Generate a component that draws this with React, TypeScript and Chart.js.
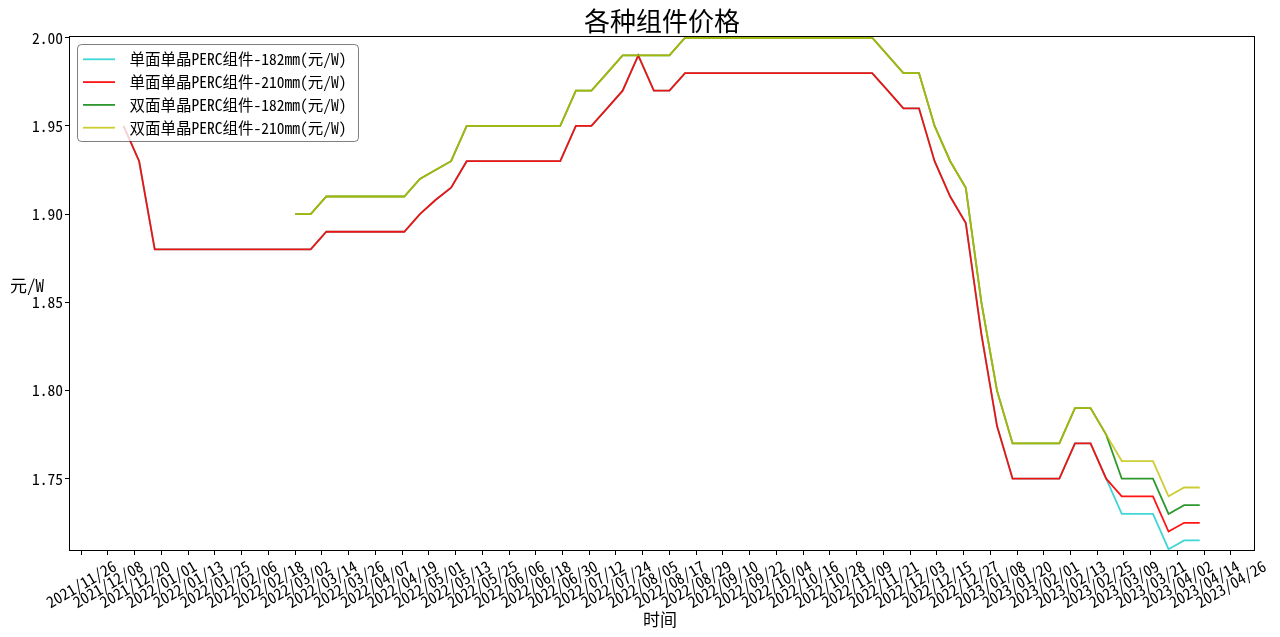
import React, { useEffect, useRef } from "react";
import { Chart, registerables } from "chart.js";

Chart.register(...registerables);

const dates = [
  "2021/12/15", "2021/12/22", "2021/12/29", "2022/01/05", "2022/01/12", "2022/01/19", "2022/01/26", "2022/02/02", "2022/02/09", "2022/02/16",
  "2022/02/23", "2022/03/02", "2022/03/09", "2022/03/16", "2022/03/23", "2022/03/30", "2022/04/06", "2022/04/13", "2022/04/20", "2022/04/27",
  "2022/05/04", "2022/05/11", "2022/05/18", "2022/05/25", "2022/06/01", "2022/06/08", "2022/06/15", "2022/06/22", "2022/06/29", "2022/07/06",
  "2022/07/13", "2022/07/20", "2022/07/27", "2022/08/03", "2022/08/10", "2022/08/17", "2022/08/24", "2022/08/31", "2022/09/07", "2022/09/14",
  "2022/09/21", "2022/09/28", "2022/10/05", "2022/10/12", "2022/10/19", "2022/10/26", "2022/11/02", "2022/11/09", "2022/11/16", "2022/11/23",
  "2022/11/30", "2022/12/07", "2022/12/14", "2022/12/21", "2022/12/28", "2023/01/04", "2023/01/11", "2023/01/18", "2023/01/25", "2023/02/01",
  "2023/02/08", "2023/02/15", "2023/02/22", "2023/03/01", "2023/03/08", "2023/03/15", "2023/03/22", "2023/03/29", "2023/04/05", "2023/04/12",
];

const mono182 = [
  1.95, 1.93, 1.88, 1.88, 1.88, 1.88, 1.88, 1.88, 1.88, 1.88,
  1.88, 1.88, 1.88, 1.89, 1.89, 1.89, 1.89, 1.89, 1.89, 1.90,
  1.908, 1.915, 1.93, 1.93, 1.93, 1.93, 1.93, 1.93, 1.93, 1.95,
  1.95, 1.96, 1.97, 1.99, 1.97, 1.97, 1.98, 1.98, 1.98, 1.98,
  1.98, 1.98, 1.98, 1.98, 1.98, 1.98, 1.98, 1.98, 1.98, 1.97,
  1.96, 1.96, 1.93, 1.91, 1.895, 1.832, 1.78, 1.75, 1.75, 1.75,
  1.75, 1.77, 1.77, 1.75, 1.73, 1.73, 1.73, 1.71, 1.715, 1.715,
];

const mono210 = [
  1.95, 1.93, 1.88, 1.88, 1.88, 1.88, 1.88, 1.88, 1.88, 1.88,
  1.88, 1.88, 1.88, 1.89, 1.89, 1.89, 1.89, 1.89, 1.89, 1.90,
  1.908, 1.915, 1.93, 1.93, 1.93, 1.93, 1.93, 1.93, 1.93, 1.95,
  1.95, 1.96, 1.97, 1.99, 1.97, 1.97, 1.98, 1.98, 1.98, 1.98,
  1.98, 1.98, 1.98, 1.98, 1.98, 1.98, 1.98, 1.98, 1.98, 1.97,
  1.96, 1.96, 1.93, 1.91, 1.895, 1.832, 1.78, 1.75, 1.75, 1.75,
  1.75, 1.77, 1.77, 1.75, 1.74, 1.74, 1.74, 1.72, 1.725, 1.725,
];

const bi182 = [
  null, null, null, null, null, null, null, null, null, null,
  null, 1.90, 1.90, 1.91, 1.91, 1.91, 1.91, 1.91, 1.91, 1.92,
  1.925, 1.93, 1.95, 1.95, 1.95, 1.95, 1.95, 1.95, 1.95, 1.97,
  1.97, 1.98, 1.99, 1.99, 1.99, 1.99, 2.00, 2.00, 2.00, 2.00,
  2.00, 2.00, 2.00, 2.00, 2.00, 2.00, 2.00, 2.00, 2.00, 1.99,
  1.98, 1.98, 1.95, 1.93, 1.915, 1.85, 1.80, 1.77, 1.77, 1.77,
  1.77, 1.79, 1.79, 1.775, 1.75, 1.75, 1.75, 1.73, 1.735, 1.735,
];

const bi210 = [
  null, null, null, null, null, null, null, null, null, null,
  null, 1.90, 1.90, 1.91, 1.91, 1.91, 1.91, 1.91, 1.91, 1.92,
  1.925, 1.93, 1.95, 1.95, 1.95, 1.95, 1.95, 1.95, 1.95, 1.97,
  1.97, 1.98, 1.99, 1.99, 1.99, 1.99, 2.00, 2.00, 2.00, 2.00,
  2.00, 2.00, 2.00, 2.00, 2.00, 2.00, 2.00, 2.00, 2.00, 1.99,
  1.98, 1.98, 1.95, 1.93, 1.915, 1.85, 1.80, 1.77, 1.77, 1.77,
  1.77, 1.79, 1.79, 1.775, 1.76, 1.76, 1.76, 1.74, 1.745, 1.745,
];

const seriesNames = [
  "单面单晶PERC组件-182mm(元/W)",
  "单面单晶PERC组件-210mm(元/W)",
  "双面单晶PERC组件-182mm(元/W)",
  "双面单晶PERC组件-210mm(元/W)",
];
const seriesValues = [mono182, mono210, bi182, bi210];
const seriesColors = [
  "rgba(0,200,200,0.75)",
  "rgba(255,0,0,0.92)",
  "rgba(0,128,0,0.82)",
  "rgba(191,191,0,0.8)",
];

const tickLabels = [
  "2021/11/26", "2021/12/08", "2021/12/20", "2022/01/01", "2022/01/13", "2022/01/25", "2022/02/06", "2022/02/18",
  "2022/03/02", "2022/03/14", "2022/03/26", "2022/04/07", "2022/04/19", "2022/05/01", "2022/05/13", "2022/05/25",
  "2022/06/06", "2022/06/18", "2022/06/30", "2022/07/12", "2022/07/24", "2022/08/05", "2022/08/17", "2022/08/29",
  "2022/09/10", "2022/09/22", "2022/10/04", "2022/10/16", "2022/10/28", "2022/11/09", "2022/11/21", "2022/12/03",
  "2022/12/15", "2022/12/27", "2023/01/08", "2023/01/20", "2023/02/01", "2023/02/13", "2023/02/25", "2023/03/09",
  "2023/03/21", "2023/04/02", "2023/04/14", "2023/04/26",
];
const yTicks = [1.75, 1.8, 1.85, 1.9, 1.95, 2.0];

const titleText = "各种组件价格";
const xTitle = "时间";
const yTitle = "元/W";

const FONT = '"Noto Sans Mono CJK SC", "Noto Sans CJK SC", sans-serif';
const BASE = Date.UTC(2021, 10, 26);

function toDay(s: string): number {
  const [y, m, d] = s.split("/").map(Number);
  return Math.round((Date.UTC(y, m - 1, d) - BASE) / 86400000);
}

const decorPlugin = {
  id: "decor",
  afterDraw(chart: any) {
    const { ctx, chartArea } = chart;
    const xs = chart.scales.x;
    const { left, right, top, bottom } = chartArea;

    ctx.save();
    // frame
    ctx.strokeStyle = "#000";
    ctx.lineWidth = 1;
    ctx.strokeRect(left + 0.5, top + 0.5, right - left - 1, bottom - top - 1);

    // x tick labels, rotated 30 deg, centred on tick
    ctx.fillStyle = "#000";
    ctx.font = `15.5px ${FONT}`;
    ctx.textAlign = "center";
    ctx.textBaseline = "middle";
    const rot = (-30 * Math.PI) / 180;
    for (const lab of tickLabels) {
      const x = xs.getPixelForValue(toDay(lab));
      const L = ctx.measureText(lab).width;
      const h = 15.5 * 0.85;
      const H = L * 0.5 + h * 0.866;
      const yTop = bottom + 8;
      ctx.save();
      ctx.translate(x, yTop + H / 2);
      ctx.rotate(rot);
      ctx.fillText(lab, 0, 0);
      ctx.restore();
    }

    // title
    ctx.font = `26px ${FONT}`;
    ctx.textAlign = "center";
    ctx.textBaseline = "middle";
    ctx.fillText(titleText, (left + right) / 2, 21);

    // axis titles
    ctx.font = `17px ${FONT}`;
    ctx.fillText(xTitle, (left + right) / 2 - 2, 620);
    ctx.textAlign = "left";
    ctx.fillText(yTitle, 10, 286);

    // legend
    const bx = 77.5, by = 44.5, bw = 281, bh = 97, r = 4;
    ctx.beginPath();
    ctx.moveTo(bx + r, by);
    ctx.lineTo(bx + bw - r, by);
    ctx.quadraticCurveTo(bx + bw, by, bx + bw, by + r);
    ctx.lineTo(bx + bw, by + bh - r);
    ctx.quadraticCurveTo(bx + bw, by + bh, bx + bw - r, by + bh);
    ctx.lineTo(bx + r, by + bh);
    ctx.quadraticCurveTo(bx, by + bh, bx, by + bh - r);
    ctx.lineTo(bx, by + r);
    ctx.quadraticCurveTo(bx, by, bx + r, by);
    ctx.closePath();
    ctx.fillStyle = "rgba(255,255,255,0.8)";
    ctx.fill();
    ctx.strokeStyle = "rgba(0,0,0,0.5)";
    ctx.lineWidth = 1;
    ctx.stroke();

    ctx.font = `15.5px ${FONT}`;
    ctx.textAlign = "left";
    ctx.textBaseline = "middle";
    seriesNames.forEach((name, k) => {
      const yy = 59.3 + k * 22.8;
      ctx.strokeStyle = seriesColors[k];
      ctx.lineWidth = 1.8;
      ctx.beginPath();
      ctx.moveTo(83, yy);
      ctx.lineTo(115, yy);
      ctx.stroke();
      ctx.fillStyle = "#000";
      ctx.fillText(name, 129.5, yy);
    });
    ctx.restore();
  },
};

export default function App() {
  const ref = useRef<HTMLCanvasElement | null>(null);

  useEffect(() => {
    if (!ref.current) return;
    const tickDays = tickLabels.map(toDay);
    const datasets = seriesNames.map((name, k) => ({
      label: name,
      data: dates.map((d, i) => ({ x: toDay(d), y: seriesValues[k][i] })),
      borderColor: seriesColors[k],
      backgroundColor: seriesColors[k],
      borderWidth: 1.8,
      pointRadius: 0,
      tension: 0,
      spanGaps: false,
      fill: false,
      order: seriesNames.length - 1 - k,
    }));

    const chart = new Chart(ref.current, {
      type: "line",
      data: { datasets: datasets as any },
      options: {
        responsive: false,
        animation: false,
        layout: { padding: { top: 36, right: 25, left: 0, bottom: 0 } },
        scales: {
          x: {
            type: "linear",
            min: -5.48,
            max: 526.8,
            afterBuildTicks: (s: any) => {
              s.ticks = tickDays.map((v) => ({ value: v }));
            },
            afterFit: (s: any) => {
              s.height = 86;
            },
            ticks: { display: false, autoSkip: false },
            grid: { drawOnChartArea: false, drawTicks: true, tickLength: 4, color: "#000", lineWidth: 1 },
            border: { display: false },
          },
          y: {
            type: "linear",
            min: 1.709,
            max: 2.001,
            afterBuildTicks: (s: any) => {
              s.ticks = yTicks.map((v) => ({ value: v }));
            },
            afterFit: (s: any) => {
              s.width = 69;
            },
            ticks: {
              autoSkip: false,
              color: "#000",
              padding: 2,
              font: { family: FONT, size: 15.5 },
              callback: (v: any) => Number(v).toFixed(2),
            },
            grid: { drawOnChartArea: false, drawTicks: true, tickLength: 4, color: "#000", lineWidth: 1 },
            border: { display: false },
          },
        },
        plugins: {
          legend: { display: false },
          title: { display: false },
          tooltip: { enabled: false },
        },
      } as any,
      plugins: [decorPlugin],
    });
    return () => chart.destroy();
  }, []);

  return (
    <div style={{ position: "absolute", left: 0, top: 0, width: 1280, height: 637, background: "#fff" }}>
      <canvas ref={ref} width={1280} height={637} style={{ display: "block" }} />
    </div>
  );
}
